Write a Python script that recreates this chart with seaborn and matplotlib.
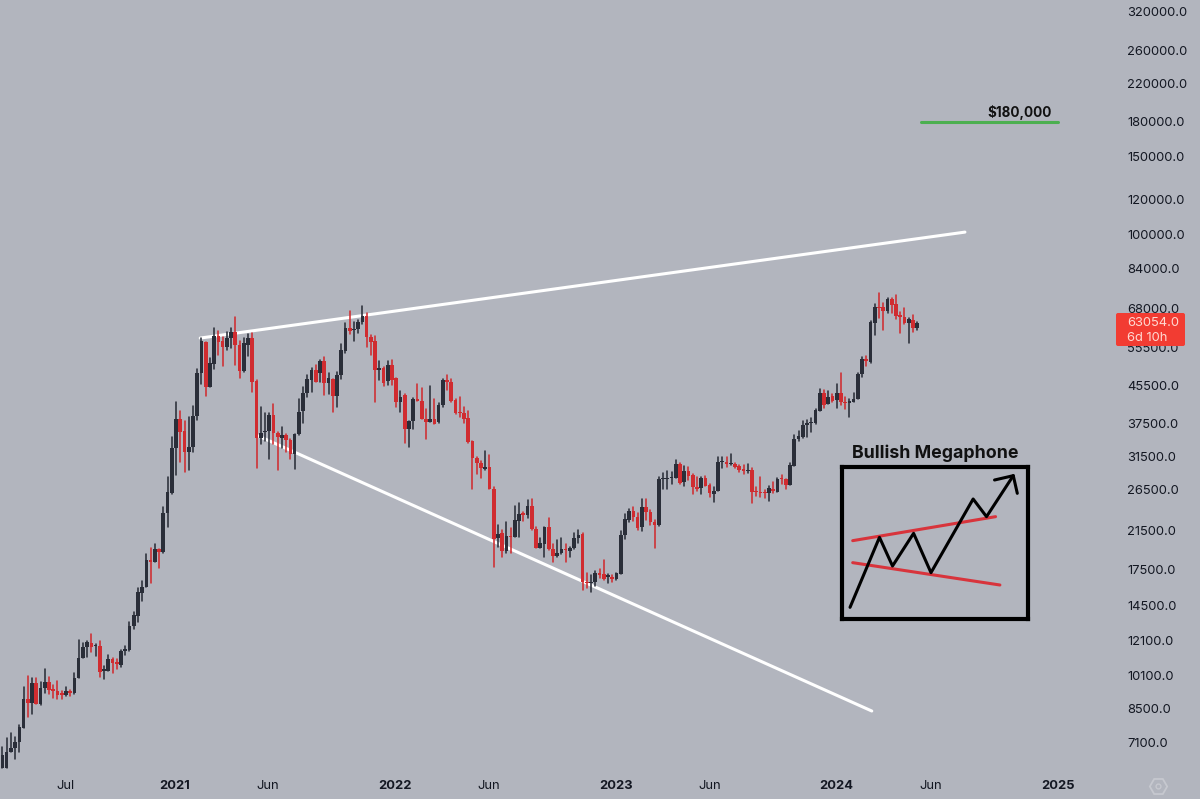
import pandas as pd
import numpy as np
import matplotlib
matplotlib.use("Agg")
import matplotlib.pyplot as plt
from matplotlib.lines import Line2D
from matplotlib.patches import FancyBboxPatch
from matplotlib.transforms import IdentityTransform
import seaborn as sns

# weekly candles
opens = [6220,6220,6780,6930,7150,7690,8910,8760,9680,8690,9470,9730,9380,9300,9190,9110,9320,9220,9950,11060,11720,11920,11760,11760,
10340,10340,10970,10840,10650,11460,11520,13070,13770,15520,15950,18390,18230,19440,19140,23450,26110,32880,38300,35980,32260,33170,38910,48580,
57280,45320,50990,59090,57580,55810,58280,60340,56290,49170,56290,58480,46680,34760,35740,35980,39040,35670,34760,35300,34340,31930,35430,39930,
43780,46920,49430,48740,51800,46110,47250,43250,48240,54660,61500,60860,61180,63340,65570,58790,57380,49430,50030,46680,50730,47490,41920,43400,
36300,37910,42500,42140,38370,37780,38370,37780,41200,46920,46510,42280,39790,39450,38570,34160,31320,30410,29530,29890,26610,20590,21130,19270,
20870,20770,22570,23450,23200,24360,21650,19540,19990,21880,19440,18780,19040,19510,19310,19540,20590,21060,16430,16350,16430,17160,17100,16860,
16860,16630,17100,20910,22650,23770,22960,21800,24270,23650,22450,22030,28030,28030,28130,28230,30310,27650,29270,28620,26940,26700,28180,27170,
25930,26340,30570,30680,30260,30310,29990,29480,29170,29380,26380,26240,26240,26020,26560,26200,28130,27980,27170,30050,34460,34940,37130,37450,
37580,40000,43780,41410,43170,42280,43930,41920,41700,41920,42500,48320,52250,51620,63230,68720,68480,67300,71510,69680,65800,65010,63230,64110,
61600]
highs = [6960,7270,7460,7340,7790,9480,10060,9940,9940,9730,10410,10020,9600,9800,9300,9480,9350,10200,12130,11920,12090,12510,11880,12090,
10610,11220,11030,10970,11520,11760,13340,14060,15870,16490,18940,19540,19950,19480,24270,28370,34940,41920,39930,37970,38770,41050,49600,58480,
57280,52700,61600,60550,58790,60340,61390,65010,57580,58280,59500,59810,46920,40840,39590,39450,41410,35860,36680,35430,34460,35430,42500,45160,
48160,49860,50730,52070,52980,48740,47250,49000,56490,63010,67180,63560,64110,68960,66370,59300,58990,51890,50290,51890,52070,47490,44390,43550,
37970,42650,45870,44930,40280,45480,42500,41560,47080,48160,47080,42430,43020,40840,40000,34160,31490,30840,32480,31760,26940,22070,21500,22450,
21690,24360,24780,23650,25130,25260,21880,20590,21880,22840,19950,20410,20590,19950,19710,21200,21500,21200,17160,17010,17400,17520,18390,17100,
17010,17220,21420,23320,24020,24270,23450,25310,25260,23860,22650,28370,28870,29220,29120,30950,30520,29990,29790,28720,28370,28370,28470,27310,
26840,31490,31490,31490,31930,30410,30150,30150,30310,29630,26940,28280,26470,27030,27650,28130,28620,28030,30410,35240,36050,37970,38100,38440,
40280,44770,44540,44390,43620,45870,48740,43020,42430,43780,48580,52790,53160,63890,69680,73650,69920,71760,71760,73020,66950,68120,64890,65800,
63560]
lows = [6220,6220,6780,6520,6780,7660,8110,8240,8690,8650,9190,9140,8950,8920,8920,9080,9080,9160,9940,11030,11120,11420,11160,9990,
9920,10340,10200,10410,10560,11200,11480,12820,13300,14880,15950,16290,18170,17670,19040,21880,25930,28620,30570,29020,29380,32200,38100,45870,
43170,45320,49600,53440,50550,54850,55320,50730,47330,49000,53160,44160,29630,33570,34160,31110,33630,29380,32880,32320,31110,29480,35240,37580,
43020,44000,46510,46510,43400,43550,39790,40840,47080,54090,59610,57510,59810,62790,55810,53440,41920,46920,45480,45720,45720,40700,39790,33870,
33050,36360,42060,38240,34520,37780,37320,37580,40840,44540,41920,39310,38640,37580,33870,26610,28720,28130,29380,26610,17700,19710,18650,19040,
19040,20770,20770,22530,22840,21500,19540,19540,18650,19370,18230,18650,18980,18230,18710,19440,20060,15730,15870,15600,16090,16720,16570,16350,
16430,16570,17100,20480,22450,22570,21500,21420,22650,22070,19610,21990,26610,26610,27310,28230,27310,27080,27890,25930,26380,25930,27030,25480,
24910,26340,29630,29790,30150,29630,29120,28770,28940,24780,25660,25480,25350,25040,26110,26150,27310,26560,27170,30050,34160,34640,34820,35860,
37320,40000,40490,41410,41920,40490,41200,40350,38770,41920,42500,47740,50470,51170,59300,64670,60860,66600,66370,64330,59810,62680,56980,60340,
60860]
closes = [6670,6780,6930,7150,7730,8920,8720,9680,8690,9470,9730,9350,9300,9110,9110,9320,9220,9970,11060,11720,11980,11680,11820,10290,
10410,10970,10780,10710,11460,11560,13070,13820,15540,16010,18390,18170,19480,19210,23450,26240,33000,38300,35860,32200,33170,38910,48580,57580,
45320,51170,59090,57280,55810,58480,60130,56290,49170,56780,58280,46510,34760,35550,35980,39110,35670,34820,35300,34340,31930,35430,39790,43930,
47160,49430,46510,51890,46110,47330,43250,48240,54850,61600,60650,61180,63340,65570,58790,57280,49430,50030,46110,50730,46920,41770,43020,36300,
37910,42500,42060,38240,37780,38300,37320,41200,46920,46510,42060,39590,39450,38300,33920,31320,30410,29630,29890,26610,20520,21020,19310,20840,
20770,22650,23320,23240,24360,21570,19540,20060,21880,19440,18780,19110,19440,19370,19610,20660,20950,16430,16290,16430,17220,17010,16660,17010,
16660,17160,20950,22770,23730,22960,21690,24270,23570,22370,22070,27980,28180,28180,28370,30310,27500,29270,28470,26840,26560,28180,27080,26020,
26380,30570,30780,30310,30410,29890,29380,29170,29380,26240,26200,26110,26020,26700,26290,28030,27980,27170,30150,34520,35120,37130,37450,37640,
40140,43930,41200,43020,42140,43930,41770,41630,41990,42500,48320,52340,51800,63340,68720,68360,67180,71510,69320,65460,65010,63010,64450,61390,
63230]

y_ticks = [320000,260000,220000,180000,150000,120000,100000,84000,68000,55500,45500,37500,31500,26500,21500,17500,14500,12100,10100,8500,7100]
x_ticks = ["2020-07-05","2021-01-01","2021-06-05","2022-01-01","2022-06-05","2023-01-01","2023-06-05","2024-01-01","2024-06-04","2025-01-01"]
x_labels = ["Jul","2021","Jun","2022","Jun","2023","Jun","2024","Jun","2025"]

# drawn lines on the chart
upper_dates = ["2021-02-13","2024-07-31"]
upper_prices = [58370,101300]
lower_dates = ["2021-05-20","2024-02-28"]
lower_prices = [35080,8385]
target_dates = ["2024-05-19","2025-01-01"]
target_prices = [180000,180000]

# sketch in the box, same units as the crop of it
path_x = [60,148,187,250,302,428,468,548]
path_y = [532,322,408,310,428,207,260,137]
head_x = [492,548,560]
head_y = [150,137,190]
top_x = [68,495]
top_y = [332,260]
bottom_x = [68,508]
bottom_y = [398,465]

BG = "#b2b5be"
DARK = "#2a2e39"
RED = "#d02c30"
INK = "#131722"

sns.set_theme(style="white", rc={"figure.facecolor": BG, "axes.facecolor": BG})
plt.rcParams["font.family"] = ["Inter", "DejaVu Sans"]

W, H = 1200, 799
fig = plt.figure(figsize=(12, 7.99), dpi=100)
ax = fig.add_axes([0, 27 / H, 1118 / W, 772 / H])
ax.set_yscale("log")

dates = pd.date_range("2020-03-23", periods=len(closes), freq="W-MON")
df = pd.DataFrame({"date": dates, "open": opens, "high": highs, "low": lows, "close": closes})
df["up"] = df["close"] >= df["open"]

for d, p, c in [(upper_dates, upper_prices, "white"), (lower_dates, lower_prices, "white"), (target_dates, target_prices, "#4caf50")]:
    sns.lineplot(x=pd.to_datetime(d), y=p, ax=ax, color=c, linewidth=2.2, zorder=2, estimator=None)

wicks = df.melt(id_vars=["date", "up"], value_vars=["high", "low"], value_name="price")
sns.lineplot(data=wicks, x="date", y="price", units="date", hue="up", estimator=None, palette={True: DARK, False: RED},
             linewidth=1.15, legend=False, ax=ax, zorder=3)

colors = np.where(df["up"], DARK, RED)
ax.bar(df["date"], np.abs(df["close"] - df["open"]), bottom=df[["open", "close"]].min(axis=1), width=6.1, color=colors, linewidth=0, zorder=4)

ax.set_xlim(pd.Timestamp("2020-03-19"), pd.Timestamp("2025-04-10"))
ax.set_ylim(6105, 338900)
ax.yaxis.tick_right()
ax.set_yticks(y_ticks, labels=[f"{v:.1f}" for v in y_ticks])
ax.minorticks_off()
ax.set_xticks(pd.to_datetime(x_ticks), labels=x_labels)
ax.tick_params(axis="y", length=0, pad=6.5, labelsize=9.3, labelcolor=INK)
ax.tick_params(axis="x", length=0, pad=6, labelsize=9.3, labelcolor=INK)
for lab in ax.get_xticklabels():
    if lab.get_text().isdigit():
        lab.set_fontweight("bold")
ax.set_xlabel("")
ax.set_ylabel("")
sns.despine(ax=ax, left=True, bottom=True, right=True, top=True)

fig.text(1020 / W, 1 - 112 / H, "$180,000", ha="center", va="center", fontsize=9.7, fontweight="bold", color="#111111")
fig.text(935 / W, 1 - 453 / H, "Bullish Megaphone", ha="center", va="center", fontsize=12.8, fontweight="bold", color="#111111")

# small box with the pattern sketch
inset = fig.add_axes([842 / W, 1 - 619 / H, 186 / W, 152 / H], facecolor="none")
sns.lineplot(x=top_x, y=top_y, ax=inset, color="#d8343c", linewidth=2.2, estimator=None, sort=False)
sns.lineplot(x=bottom_x, y=bottom_y, ax=inset, color="#d8343c", linewidth=2.2, estimator=None, sort=False)
sns.lineplot(x=path_x, y=path_y, ax=inset, color="black", linewidth=2.2, estimator=None, sort=False)
sns.lineplot(x=head_x, y=head_y, ax=inset, color="black", linewidth=2.2, estimator=None, sort=False)
inset.set_xlim(36, 592)
inset.set_ylim(567, 111)
inset.set_xticks([])
inset.set_yticks([])
inset.set_xlabel("")
inset.set_ylabel("")
for s in inset.spines.values():
    s.set_visible(True)
    s.set_color("black")
    s.set_linewidth(3)

# price tag over the axis
tag = FancyBboxPatch((1116, H - 346), 69, 33, boxstyle="round,pad=0,rounding_size=2", facecolor="#f23c32", edgecolor="none",
                     transform=IdentityTransform(), zorder=2)
fig.add_artist(tag)
fig.text(1127 / W, 1 - 323 / H, "63054.0", ha="left", va="center", fontsize=9.3, color="#ffd9d2")
fig.text(1127 / W, 1 - 338 / H, "6d 10h", ha="left", va="center", fontsize=9.3, color="#ffd9d2")

# logo at the corner
fig.add_artist(Line2D([1158 / W], [1 - 786 / H], marker="H", markersize=12.5, markerfacecolor="none", markeredgecolor="#c6c8cf",
                      markeredgewidth=1.3, transform=fig.transFigure))
fig.add_artist(Line2D([1158 / W], [1 - 786 / H], marker="o", markersize=3.5, markerfacecolor="none", markeredgecolor="#c6c8cf",
                      markeredgewidth=1.0, transform=fig.transFigure))

fig.savefig("out.png", dpi=100, facecolor=BG)
